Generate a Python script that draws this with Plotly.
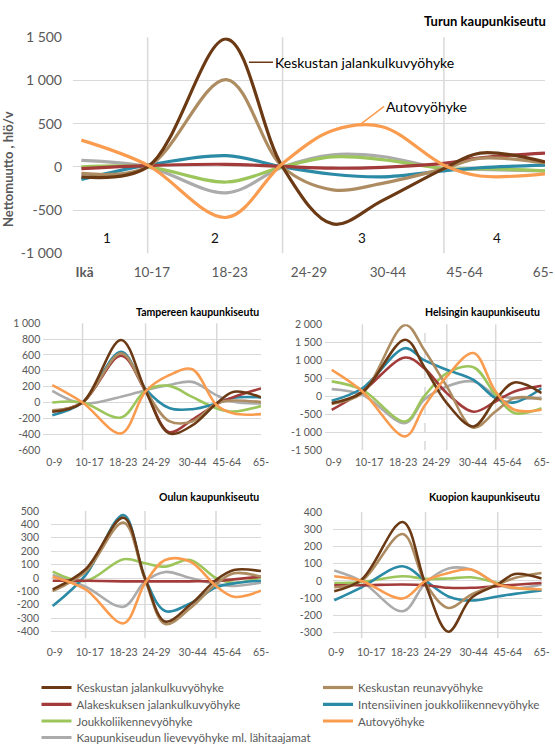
import plotly.graph_objects as go

W, H = 555, 745

# ---------------- data ----------------
series_names = [
    "Keskustan jalankulkuvyöhyke",
    "Keskustan reunavyöhyke",
    "Alakeskuksen jalankulkuvyöhyke",
    "Intensiivinen joukkoliikennevyöhyke",
    "Joukkoliikennevyöhyke",
    "Autovyöhyke",
    "Kaupunkiseudun lievevyöhyke ml. lähitaajamat",
]
series_colors = ["#6B3A14", "#AE8C62", "#A33B3B", "#2B8AA5", "#9CC55B", "#FA9C4F", "#ABABAB"]
draw_order = [6, 4, 3, 2, 1, 0, 5]

age_labels = ["0-9", "10-17", "18-23", "24-29", "30-44", "45-64", "65-"]
top_age_labels = ["<b>Ikä</b>", "10-17", "18-23", "24-29", "30-44", "45-64", "65-"]
top_tick_pos = [0.007, 0.152, 0.32, 0.491, 0.661, 0.827, 0.996]
small_tick_pos = [0.01, 0.178, 0.34, 0.498, 0.672, 0.837, 1.0]

# Turun kaupunkiseutu
turku_x = [0, 0.143, 0.313, 0.434, 0.542, 0.649, 0.782, 0.86, 1.0]
turku_kj = [-115, 0, 1480, 0, -660, -390, -20, 160, 58]
turku_kr = [-75, 0, 1010, 0, -265, -190, -20, 100, 45]
turku_aj = [-20, 15, 30, 5, -15, -5, 40, 105, 160]
turku_ij = [-145, 20, 130, 0, -85, -115, -45, -10, 20]
turku_jl = [0, 0, -175, 0, 115, 85, -20, -20, -45]
turku_auto = [310, 20, -585, 40, 420, 465, 20, -105, -80]
turku_kl = [75, 0, -300, 0, 140, 120, -20, -30, -45]
turku_bounds = [0.143, 0.434, 0.782]
turku_regions = ["1", "2", "3", "4"]
turku_region_x = [0.055, 0.288, 0.605, 0.896]
turku_region_y = -823
turku_yticks = [-1000, -500, 0, 500, 1000, 1500]

# Tampereen kaupunkiseutu
tampere_x = [0, 0.145, 0.33, 0.447, 0.56, 0.67, 0.788, 0.87, 1.0]
tampere_kj = [-118, 0, 790, 150, -390, -290, -10, 135, 65]
tampere_kr = [-100, 0, 620, 150, -235, -240, -10, 25, 5]
tampere_aj = [-110, 0, 590, 140, -375, -220, -20, 70, 177]
tampere_ij = [-160, 0, 640, 170, -70, -85, -10, 60, 65]
tampere_jl = [0, 0, -190, 150, 210, 70, -75, -115, -45]
tampere_auto = [220, 0, -390, 140, 345, 420, -35, -140, -147]
tampere_kl = [147, -13, 72, 155, 220, 260, 90, 8, -13]
tampere_bounds = [0.145, 0.447, 0.788]
tampere_yticks = [-600, -400, -200, 0, 200, 400, 600, 800, 1000]

# Helsingin kaupunkiseutu
helsinki_x = [0, 0.146, 0.35, 0.44, 0.548, 0.675, 0.78, 0.87, 1.0]
helsinki_kj = [-195, 110, 1570, 820, -195, -845, -100, 380, 85]
helsinki_kr = [-215, 85, 1980, 1290, 270, -880, -430, -55, -85]
helsinki_aj = [-380, 130, 1075, 780, 84, -436, -150, 130, 290]
helsinki_ij = [-130, 220, 1335, 1000, 733, 455, -55, -175, 220]
helsinki_jl = [410, 175, -705, -9, 640, 807, 37, -470, -335]
helsinki_auto = [730, 130, -1120, -288, 548, 1200, 130, -380, -380]
helsinki_kl = [195, 37, -750, -102, 269, 408, 37, -55, -55]
helsinki_bounds = [0.146, 0.548, 0.781]
helsinki_dashed = [0.444]
helsinki_yticks = [-1500, -1000, -500, 0, 500, 1000, 1500, 2000]

# Oulun kaupunkiseutu
oulu_x = [0, 0.158, 0.34, 0.443, 0.54, 0.66, 0.784, 0.87, 1.0]
oulu_kj = [-85, 65, 450, 0, -325, -200, -15, 60, 52]
oulu_kr = [-97, 47, 413, -10, -343, -226, -45, 35, 10]
oulu_aj = [-20, -20, -25, -25, -25, -25, -22, -10, 10]
oulu_ij = [-209, 22, 470, 0, -246, -190, -70, -40, -20]
oulu_jl = [47, -22, 140, 110, 85, 135, 0, -35, 5]
oulu_auto = [10, -85, -338, -40, 134, 122, -60, -140, -95]
oulu_kl = [22, -65, -214, -27, 45, 0, -45, -60, -35]
oulu_bounds = [0.158, 0.443, 0.784]
oulu_yticks = [-400, -300, -200, -100, 0, 100, 200, 300, 400, 500]

# Kuopion kaupunkiseutu
kuopio_x = [0, 0.132, 0.33, 0.44, 0.55, 0.66, 0.788, 0.87, 1.0]
kuopio_kj = [-60, 8, 342, -20, -295, -100, -20, 40, 14]
kuopio_kr = [-37, 0, 272, -15, -157, -80, -20, 17, 46]
kuopio_aj = [-25, -25, -21, -25, -40, -40, -30, -22, -12]
kuopio_ij = [-112, -37, 85, 0, -90, -114, -90, -75, -56]
kuopio_jl = [-12, -6, 27, 12, 14, 21, -12, -40, -52]
kuopio_auto = [27, 0, -102, 0, 46, 66, -20, -40, -50]
kuopio_kl = [60, -2, -176, -12, 72, 66, -20, -44, -20]
kuopio_bounds = [0.132, 0.44, 0.788]
kuopio_yticks = [-300, -200, -100, 0, 100, 200, 300, 400]

charts = [
    dict(title="Turun kaupunkiseutu", x=turku_x,
         ys=[turku_kj, turku_kr, turku_aj, turku_ij, turku_jl, turku_auto, turku_kl],
         bounds=turku_bounds, dashed=[], yticks=turku_yticks, yrange=[-1000, 1500],
         xpx=[73, 545], ypx=[37.3, 253.3], x0=-0.018, lw=3.2, tickpos=top_tick_pos,
         ticktext=top_age_labels, fs=14, xfs=13.5, ystand=10, xstand=9, tfs=13,
         title_px=(548, 21)),
    dict(title="Tampereen kaupunkiseutu", x=tampere_x,
         ys=[tampere_kj, tampere_kr, tampere_aj, tampere_ij, tampere_jl, tampere_auto, tampere_kl],
         bounds=tampere_bounds, dashed=[], yticks=tampere_yticks, yrange=[-600, 1000],
         xpx=[43.3, 261], ypx=[323.3, 450], x0=-0.043, lw=2.6, tickpos=small_tick_pos,
         ticktext=age_labels, fs=10.5, xfs=10.5, ystand=2, xstand=4, tfs=10.5,
         title_px=(261, 312.3)),
    dict(title="Helsingin kaupunkiseutu", x=helsinki_x,
         ys=[helsinki_kj, helsinki_kr, helsinki_aj, helsinki_ij, helsinki_jl, helsinki_auto, helsinki_kl],
         bounds=helsinki_bounds, dashed=helsinki_dashed, yticks=helsinki_yticks, yrange=[-1500, 2000],
         xpx=[325, 541.7], ypx=[324.3, 450], x0=-0.032, lw=2.6, tickpos=small_tick_pos,
         ticktext=age_labels, fs=10.5, xfs=10.5, ystand=2, xstand=4, tfs=10.5,
         title_px=(542, 312.3)),
    dict(title="Oulun kaupunkiseutu", x=oulu_x,
         ys=[oulu_kj, oulu_kr, oulu_aj, oulu_ij, oulu_jl, oulu_auto, oulu_kl],
         bounds=oulu_bounds, dashed=[], yticks=oulu_yticks, yrange=[-450, 500],
         xpx=[51, 261], ypx=[511, 638.3], x0=-0.008, lw=2.6, tickpos=small_tick_pos,
         ticktext=age_labels, fs=10.5, xfs=10.5, ystand=11, xstand=6, tfs=10.5,
         title_px=(261, 497.3)),
    dict(title="Kuopion kaupunkiseutu", x=kuopio_x,
         ys=[kuopio_kj, kuopio_kr, kuopio_aj, kuopio_ij, kuopio_jl, kuopio_auto, kuopio_kl],
         bounds=kuopio_bounds, dashed=[], yticks=kuopio_yticks, yrange=[-333, 400],
         xpx=[333, 541.7], ypx=[512, 638.3], x0=-0.006, lw=2.6, tickpos=small_tick_pos,
         ticktext=age_labels, fs=10.5, xfs=10.5, ystand=10, xstand=6, tfs=10.5,
         title_px=(542, 497.3)),
]

# legend positions (px): legend left x and row centre y for each series
legend_px = [(36.5, 687.5), (318, 687.5), (36.5, 704.3), (318, 704.3), (36.5, 721), (318, 721), (36.5, 737.5)]

FONT = "Lato, 'Open Sans', sans-serif"
GRAY = "#595959"
GRID = "#D9D9D9"


def fmt(v):
    s = f"{abs(v):,}".replace(",", " ")
    return ("-" if v < 0 else "") + s


fig = go.Figure()
layout = dict(
    width=W, height=H, margin=dict(l=0, r=0, t=0, b=0, autoexpand=False),
    paper_bgcolor="white", plot_bgcolor="white",
    font=dict(family=FONT, color=GRAY),
    shapes=[], annotations=[],
)

for ci, ch in enumerate(charts):
    n = "" if ci == 0 else str(ci + 1)
    xa, ya = "x" + n, "y" + n
    for si in draw_order:
        leg = "legend" if si == 0 else f"legend{si + 1}"
        fig.add_trace(go.Scatter(
            x=ch["x"], y=ch["ys"][si], mode="lines", name=series_names[si],
            line=dict(color=series_colors[si], width=ch["lw"], shape="spline", smoothing=1.0),
            xaxis=xa, yaxis=ya, showlegend=(ci == 0), legend=leg,
            hoverinfo="skip",
        ))
    layout["xaxis" + n] = dict(
        domain=[ch["xpx"][0] / W, ch["xpx"][1] / W], range=[ch["x0"], 1.0],
        anchor=ya, showgrid=False, zeroline=False, showline=False,
        tickmode="array", tickvals=ch["tickpos"], ticktext=ch["ticktext"],
        ticks="", tickfont=dict(size=ch["xfs"], color=GRAY, family=FONT),
        ticklabelstandoff=ch["xstand"], fixedrange=True, automargin=False,
    )
    layout["yaxis" + n] = dict(
        domain=[1 - ch["ypx"][1] / H, 1 - ch["ypx"][0] / H], range=ch["yrange"],
        anchor=xa, showgrid=True, gridcolor=GRID, gridwidth=1, zeroline=False, showline=False,
        tickmode="array", tickvals=ch["yticks"], ticktext=[fmt(v) for v in ch["yticks"]],
        ticks="", tickfont=dict(size=ch["fs"], color=GRAY, family=FONT),
        ticklabelstandoff=ch["ystand"], fixedrange=True, automargin=False,
    )
    for b in ch["bounds"]:
        layout["shapes"].append(dict(type="line", xref=xa, yref=ya + " domain", x0=b, x1=b, y0=0, y1=1,
                                     line=dict(color=GRID, width=1.5), layer="below"))
    for b in ch["dashed"]:
        layout["shapes"].append(dict(type="line", xref=xa, yref=ya + " domain", x0=b, x1=b, y0=0, y1=1,
                                     line=dict(color=GRID, width=1.5, dash="dash"), layer="below"))
    tx, ty = ch["title_px"]
    layout["annotations"].append(dict(
        text="<b>" + ch["title"] + "</b>", xref="paper", yref="paper", x=tx / W, y=1 - ty / H,
        xanchor="right", yanchor="middle", showarrow=False,
        font=dict(size=ch["tfs"], color="#000000", family=FONT)))

# Region numbers in the top chart
for lab, rx in zip(turku_regions, turku_region_x):
    layout["annotations"].append(dict(text=lab, xref="x", yref="y", x=rx, y=turku_region_y,
                                      showarrow=False, font=dict(size=13.5, color="#111111", family=FONT)))

# Leader labels in the top chart
layout["annotations"].append(dict(
    text="Keskustan jalankulkuvyöhyke", xref="x", yref="y", x=0.3615, y=1212, ax=24, ay=0,
    showarrow=True, arrowhead=0, arrowwidth=1.5, arrowcolor=series_colors[0],
    xanchor="left", yanchor="middle", font=dict(size=14, color="#000000", family=FONT)))
layout["annotations"].append(dict(
    text="Autovyöhyke", xref="x", yref="y", x=0.599, y=481, ax=25, ay=-19,
    showarrow=True, arrowhead=0, arrowwidth=1.5, arrowcolor=series_colors[5],
    xanchor="left", yanchor="middle", font=dict(size=14, color="#000000", family=FONT)))

# Y-axis title
layout["annotations"].append(dict(
    text="<b>Nettomuutto , hlö/v</b>", xref="paper", yref="paper", x=8 / W, y=1 - 169 / H,
    textangle=-90, showarrow=False, xanchor="center", yanchor="middle",
    font=dict(size=13, color=GRAY, family=FONT)))

# Legends: one per entry, positioned like the two-column legend
for si, (lx, ly) in enumerate(legend_px):
    key = "legend" if si == 0 else f"legend{si + 1}"
    layout[key] = dict(
        x=lx / W, y=1 - ly / H, xanchor="left", yanchor="middle",
        orientation="v", bgcolor="rgba(0,0,0,0)", borderwidth=0,
        font=dict(size=11.5, color=GRAY, family=FONT), itemwidth=30,
    )

fig.update_layout(**layout)
fig.write_html(
    "out.html",
    config={"displayModeBar": False, "staticPlot": False},
    post_script="document.body.style.margin='0';document.body.style.overflow='hidden';",
)
